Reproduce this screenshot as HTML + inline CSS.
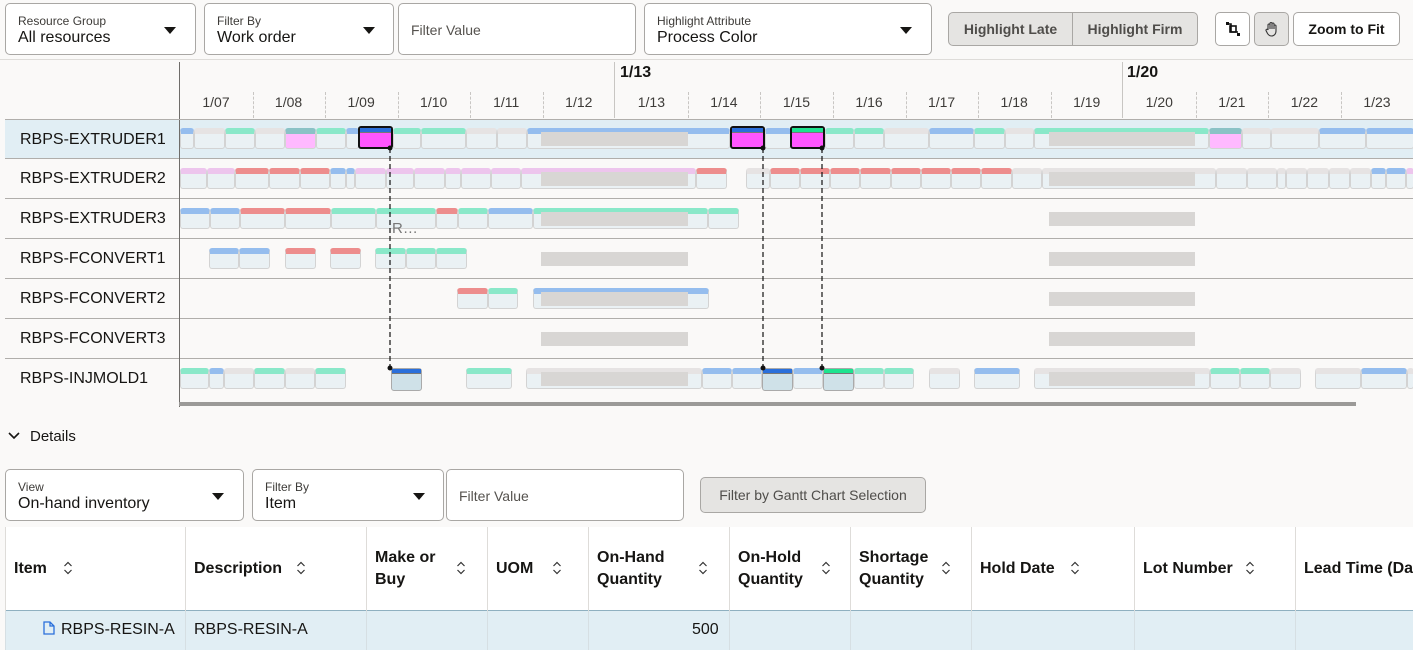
<!DOCTYPE html>
<html><head><meta charset="utf-8"><style>
*{box-sizing:border-box;margin:0;padding:0}
body{width:1413px;height:650px;overflow:hidden;background:#faf9f8;font-family:"Liberation Sans",sans-serif;color:#161513;position:relative}
.a{position:absolute}
.box{position:absolute;background:#fff;border:1px solid #a9a7a4;border-radius:5px}
.lab{position:absolute;font-size:12px;color:#3d3b38;left:12px;top:10px}
.val{position:absolute;font-size:16px;left:12px;top:25px}
.ph{position:absolute;font-size:14px;color:#55524e;left:12px;top:18px}
.tri{position:absolute;width:0;height:0;border-left:6px solid transparent;border-right:6px solid transparent;border-top:7px solid #161513;top:23px}
.btn{position:absolute;border:1px solid #a9a7a4;border-radius:5px;font-size:14px;font-weight:bold;display:flex;align-items:center;justify-content:center}
.row{position:absolute;left:5px;width:1408px;height:40px;border-bottom:1px solid #b0aeab}
.rl{position:absolute;left:15px;top:11px;font-size:16px}
.day{position:absolute;top:94px;font-size:14px;color:#3d3b38;width:60px;text-align:center}
.tk{position:absolute;top:92px;height:26px;border-left:1px dashed #c8c6c3}
.b{position:absolute;height:21px;background:#eaf1f4;border:1px solid #d3d3d3;border-radius:3px;border-top:6px solid}
.g{border-top-color:#8ae8c9}.bl{border-top-color:#95bdee}.gr{border-top-color:#e6e3e3}.r{border-top-color:#ed8d8d}.li{border-top-color:#edc5ed}.tl{border-top-color:#8ac2c6}
.pk{background:#ffb9ff}
.pl{position:absolute;height:14px;background:#d8d6d4}
.hc{position:absolute;top:527px;height:84px;border-left:1px solid #dedcd9;font-weight:bold;font-size:16px;display:flex;align-items:center;padding-left:8px;line-height:22px;white-space:nowrap}
.so{position:absolute;top:560px}
</style></head><body>
<div class="box" style="left:5px;top:3px;width:191px;height:52px"><div class="lab">Resource Group</div><div class="val">All resources</div><div class="tri" style="left:158px"></div></div>
<div class="box" style="left:204px;top:3px;width:190px;height:52px"><div class="lab">Filter By</div><div class="val">Work order</div><div class="tri" style="left:158px"></div></div>
<div class="box" style="left:398px;top:3px;width:238px;height:52px"><div class="ph">Filter Value</div></div>
<div class="box" style="left:644px;top:3px;width:288px;height:52px"><div class="lab">Highlight Attribute</div><div class="val">Process Color</div><div class="tri" style="left:255px"></div></div>
<div class="btn" style="left:948px;top:12px;width:125px;height:34px;background:#e5e4e2;color:#4f4d4a;border-radius:5px 0 0 5px">Highlight Late</div>
<div class="btn" style="left:1072px;top:12px;width:126px;height:34px;background:#e5e4e2;color:#4f4d4a;border-radius:0 5px 5px 0">Highlight Firm</div>
<div class="btn" style="left:1215px;top:12px;width:35px;height:34px;background:#fff"><svg width="16" height="16"><path d="M3 3 L6 3 L6 11 L13 11" fill="none" stroke="#111" stroke-width="1.6"/><rect x="5" y="5" width="6" height="6" fill="none" stroke="#111" stroke-width="1.6"/><rect x="1" y="1" width="3" height="3" fill="#111"/><rect x="12" y="12" width="3" height="3" fill="#111"/></svg></div>
<div class="btn" style="left:1254px;top:12px;width:35px;height:34px;background:#e5e4e2"><svg width="18" height="18" viewBox="0 0 18 18"><path d="M5 10 V5 a1 1 0 0 1 2 0 V9 V3.5 a1 1 0 0 1 2 0 V9 V4 a1 1 0 0 1 2 0 V9 V6 a1 1 0 0 1 2 0 V11 c0 3 -2 5 -4.5 5 c-2 0 -3 -1 -4 -2.5 L3 10.5 a1 1 0 0 1 2 -0.5z" fill="none" stroke="#333" stroke-width="1.1"/></svg></div>
<div class="btn" style="left:1293px;top:12px;width:107px;height:34px;background:#fff">Zoom to Fit</div>
<div class="a" style="left:0;top:59px;width:1413px;height:1px;background:#dedcd9"></div>
<div class="a" style="left:179px;top:62px;width:1px;height:345px;background:#6f6d6a"></div>
<div class="a" style="left:614px;top:62px;width:1px;height:56px;background:#c8c6c3"></div>
<div class="a" style="left:1122px;top:62px;width:1px;height:56px;background:#c8c6c3"></div>
<div class="a" style="left:620px;top:64px;font-size:16px;font-weight:bold">1/13</div>
<div class="a" style="left:1127px;top:64px;font-size:16px;font-weight:bold">1/20</div>
<div id="hdr"></div>
<div class="row" style="top:119px;background:#e1eef4;border-top:1px solid #b0aeab"><div class="rl">RBPS-EXTRUDER1</div></div>
<div class="row" style="top:159px"><div class="rl">RBPS-EXTRUDER2</div></div>
<div class="row" style="top:199px"><div class="rl">RBPS-EXTRUDER3</div></div>
<div class="row" style="top:239px"><div class="rl">RBPS-FCONVERT1</div></div>
<div class="row" style="top:279px"><div class="rl">RBPS-FCONVERT2</div></div>
<div class="row" style="top:319px"><div class="rl">RBPS-FCONVERT3</div></div>
<div class="row" style="top:359px;border-bottom:none"><div class="rl">RBPS-INJMOLD1</div></div>
<div class="a" style="left:179px;top:120px;width:1px;height:280px;background:#6f6d6a"></div>
<div id="bars"></div>
<div class="a" style="left:392px;top:220px;font-size:15px;color:#777">R…</div>
<svg class="a" style="left:0;top:0" width="1413" height="410">
<g stroke="#111" stroke-dasharray="5,3" stroke-width="1.2"><line x1="390" y1="148" x2="390" y2="368"/><line x1="763" y1="148" x2="763" y2="368"/><line x1="822" y1="148" x2="822" y2="368"/></g>
<g fill="#111"><circle cx="390" cy="148" r="2.5"/><circle cx="390" cy="368" r="2.5"/><circle cx="763" cy="148" r="2.5"/><circle cx="763" cy="368" r="2.5"/><circle cx="822" cy="148" r="2.5"/><circle cx="822" cy="368" r="2.5"/></g>
</svg>
<div class="a" style="left:179px;top:402px;width:1177px;height:4px;background:#9b9a98"></div>
<svg class="a" style="left:8px;top:431px" width="12" height="10"><path d="M1 2 L6 7 L11 2" fill="none" stroke="#161513" stroke-width="1.6"/></svg>
<div class="a" style="left:30px;top:428px;font-size:15px">Details</div>
<div class="box" style="left:5px;top:469px;width:239px;height:52px"><div class="lab">View</div><div class="val">On-hand inventory</div><div class="tri" style="left:206px"></div></div>
<div class="box" style="left:252px;top:469px;width:192px;height:52px"><div class="lab">Filter By</div><div class="val">Item</div><div class="tri" style="left:160px"></div></div>
<div class="box" style="left:446px;top:469px;width:238px;height:52px"><div class="ph">Filter Value</div></div>
<div class="btn" style="left:700px;top:477px;width:226px;height:36px;background:#e5e4e2;color:#4f4d4a;font-weight:normal;font-size:14px">Filter by Gantt Chart Selection</div>
<div class="a" style="left:5px;top:527px;width:1408px;height:84px;background:#fff;border-bottom:1px solid #8fb0c0"></div>
<div class="a" style="left:5px;top:611px;width:1408px;height:39px;background:#e1eef4"></div>
<div id="tbl"></div>
<svg class="a" style="left:43px;top:621px" width="12" height="14"><path d="M1 1 H7 L11 5 V13 H1 Z M7 1 V5 H11" fill="none" stroke="#2a6fdb" stroke-width="1.3"/></svg>
<div class="a" style="left:61px;top:621px;font-size:16px">RBPS-RESIN-A</div>
<div class="a" style="left:194px;top:621px;font-size:16px">RBPS-RESIN-A</div>
<div class="a" style="left:692px;top:621px;font-size:16px">500</div>
<script>
var h='',d=72.56,days=['1/07','1/08','1/09','1/10','1/11','1/12','1/13','1/14','1/15','1/16','1/17','1/18','1/19','1/20','1/21','1/22','1/23'];
for(var i=0;i<days.length;i++){var x=180+d*i;h+='<div class="day" style="left:'+(x+6)+'px">'+days[i]+'</div>';if(i>0&&i!=6&&i!=13)h+='<div class="tk" style="left:'+Math.round(x)+'px"></div>';}
document.getElementById('hdr').innerHTML=h;
var R=[
[[180,193,'bl'],[194,224,'gr'],[225,254,'g'],[255,284,'gr'],[285,315,'tl','pk'],[316,345,'g'],[346,358,'bl'],[393,420,'g'],[421,465,'g'],[466,496,'gr'],[497,526,'gr'],[527,729,'bl'],[765,790,'bl'],[825,853,'g'],[854,883,'g'],[884,928,'gr'],[929,973,'bl'],[974,1004,'g'],[1005,1033,'gr'],[1034,1208,'g'],[1209,1241,'tl','pk'],[1242,1270,'gr'],[1271,1318,'gr'],[1319,1365,'bl'],[1366,1413,'bl']],
[[180,206,'li'],[207,234,'li'],[235,268,'r'],[269,299,'r'],[300,329,'r'],[330,345,'bl'],[346,354,'bl'],[355,385,'li'],[386,413,'li'],[414,444,'li'],[445,460,'li'],[461,490,'li'],[491,520,'li'],[521,695,'li'],[696,726,'r'],[746,769,'gr'],[770,799,'r'],[800,829,'r'],[830,859,'r'],[860,890,'r'],[891,920,'r'],[921,950,'r'],[951,980,'r'],[981,1011,'r'],[1012,1041,'gr'],[1042,1215,'gr'],[1216,1246,'gr'],[1247,1276,'gr'],[1277,1285,'gr'],[1286,1306,'gr'],[1307,1328,'gr'],[1329,1349,'gr'],[1350,1370,'gr'],[1371,1385,'bl'],[1386,1405,'bl'],[1406,1413,'li']],
[[180,209,'bl'],[210,239,'bl'],[240,284,'r'],[285,330,'r'],[331,375,'g'],[376,435,'g'],[436,457,'r'],[458,487,'g'],[488,532,'bl'],[533,707,'g'],[708,738,'g']],
[[209,238,'bl'],[239,269,'bl'],[285,315,'r'],[330,360,'r'],[375,405,'g'],[406,435,'g'],[436,466,'g']],
[[457,487,'r'],[488,517,'g'],[533,708,'bl']],
[],
[[180,208,'g'],[209,223,'bl'],[224,253,'gr'],[254,284,'g'],[285,314,'gr'],[315,345,'g'],[466,511,'g'],[526,701,'gr'],[702,731,'bl'],[732,761,'bl'],[793,822,'bl'],[854,883,'g'],[884,913,'g'],[929,959,'gr'],[974,1019,'bl'],[1034,1209,'gr'],[1210,1239,'g'],[1240,1269,'g'],[1270,1300,'gr'],[1315,1360,'gr'],[1361,1406,'bl'],[1407,1413,'gr']]];
var s='';
for(var r=0;r<7;r++){var y=128+40*r;R[r].forEach(function(b){s+='<div class="b '+b[2]+' '+(b[3]||'')+'" style="left:'+b[0]+'px;top:'+y+'px;width:'+(b[1]-b[0]+1)+'px"></div>';});
s+='<div class="pl" style="left:541px;top:'+(y+4)+'px;width:147px"></div><div class="pl" style="left:1049px;top:'+(y+4)+'px;width:146px"></div>';}
function sel(x,y,top,body,w){s+='<div class="a" style="left:'+x+'px;top:'+y+'px;width:'+w+'px;height:23px;border:'+(body=='#ff55ff'?'2px solid #111':'1px solid #aaa')+';border-radius:3px;background:'+body+'"><div style="height:5px;background:'+top+';border-bottom:1px solid #777"></div></div>';}
sel(358,126,'#2a6fdb','#ff55ff',35);sel(730,126,'#2a6fdb','#ff55ff',35);sel(790,126,'#1de38f','#ff55ff',35);
sel(391,368,'#2a6fdb','#cfe1e8',31);sel(762,368,'#2a6fdb','#cfe1e8',31);sel(823,368,'#1de38f','#cfe1e8',31);
document.getElementById('bars').innerHTML=s;
var cols=[[5,'Item'],[185,'Description'],[366,'Make or<br>Buy'],[487,'UOM'],[588,'On-Hand<br>Quantity'],[729,'On-Hold<br>Quantity'],[850,'Shortage<br>Quantity'],[971,'Hold Date'],[1134,'Lot Number'],[1295,'Lead Time (Days)']];
var so=[68,301,461,557,703,826,946,1075,1250];
var t='';
for(var i=0;i<cols.length;i++){var x=cols[i][0],nx=i<cols.length-1?cols[i+1][0]:1500;
t+='<div class="hc" style="left:'+x+'px;width:'+(nx-x)+'px">'+cols[i][1]+'</div>';
t+='<div class="a" style="left:'+x+'px;top:611px;width:1px;height:39px;background:#d6dfe3"></div>';
if(i<9)t+='<svg class="so" style="left:'+(so[i]-5)+'px" width="10" height="16"><path d="M1.5 6 L5 2.5 L8.5 6 M1.5 10 L5 13.5 L8.5 10" fill="none" stroke="#333" stroke-width="1.2"/></svg>';}
document.getElementById('tbl').innerHTML=t;
</script>
</body></html>
